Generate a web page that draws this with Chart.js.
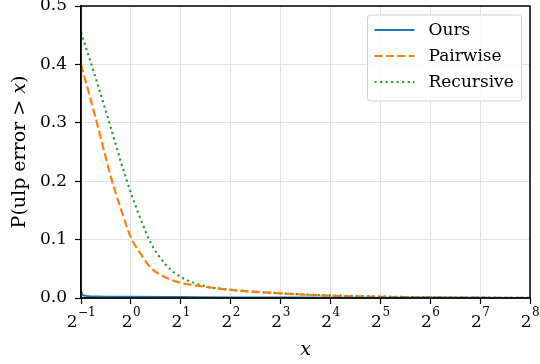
<!DOCTYPE html>
<html>
<head>
<meta charset="utf-8">
<script src="https://cdn.jsdelivr.net/npm/chart.js@4.4.1/dist/chart.umd.min.js"></script>
<style>
  html, body { margin: 0; padding: 0; background: #fff; }
  canvas { display: block; }
</style>
</head>
<body>
<canvas id="ulpChart" width="540" height="364"></canvas>
<script>
// datos
const xTickValues = [0.5, 1, 2, 4, 8, 16, 32, 64, 128, 256];
const xTickExponents = ["−1", "0", "1", "2", "3", "4", "5", "6", "7", "8"];
const yTickValues = [0, 0.1, 0.2, 0.3, 0.4, 0.5];

const xOurs = [0.5, 0.51, 0.525, 0.555, 0.616, 1, 2, 4, 16, 64, 256];
const ours = [0.012, 0.006, 0.004, 0.003, 0.0025, 0.002, 0.0015, 0.001, 0.0006, 0.0003, 0.0001];

const xBaselines = [0.5, 0.616, 0.758, 0.871, 1, 1.149, 1.32, 1.625, 2, 2.83, 4, 8, 16, 32, 64, 128, 256];
const pairwise = [0.40, 0.306, 0.207, 0.152, 0.104, 0.075, 0.052, 0.035, 0.026, 0.019, 0.014, 0.008, 0.004, 0.002, 0.001, 0.0005, 0.0002];
const recursive = [0.455, 0.375, 0.291, 0.233, 0.18, 0.134, 0.094, 0.057, 0.036, 0.020, 0.014, 0.008, 0.0045, 0.0025, 0.0012, 0.0006, 0.0003];

const serif = "'DejaVu Serif', 'Liberation Serif', serif";

const toPoints = (xs, ys) => xs.map((x, i) => ({ x: x, y: ys[i] }));

// marco negro completo
const framePlugin = {
  id: "frame",
  afterDatasetsDraw(chart) {
    const { ctx, chartArea } = chart;
    ctx.save();
    ctx.strokeStyle = "#000";
    ctx.lineWidth = 1.5;
    ctx.strokeRect(chartArea.left, chartArea.top, chartArea.right - chartArea.left, chartArea.bottom - chartArea.top);
    ctx.restore();
  },
};

// etiquetas 2^n con exponente y titulos con x en cursiva
const labelsPlugin = {
  id: "mathLabels",
  afterDraw(chart) {
    const { ctx, chartArea } = chart;
    const xs = chart.scales.x;
    ctx.save();
    ctx.fillStyle = "#000";
    ctx.textBaseline = "alphabetic";
    xTickValues.forEach((v, i) => {
      const px = xs.getPixelForValue(v);
      ctx.font = "17px " + serif;
      const wb = ctx.measureText("2").width;
      ctx.font = "12px " + serif;
      const we = ctx.measureText(xTickExponents[i]).width;
      const x0 = px - (wb + we) / 2;
      ctx.font = "17px " + serif;
      ctx.textAlign = "left";
      ctx.fillText("2", x0, 327);
      ctx.font = "12px " + serif;
      ctx.fillText(xTickExponents[i], x0 + wb + 0.5, 316);
    });

    // titulo eje x
    ctx.font = "italic 19px " + serif;
    ctx.textAlign = "center";
    ctx.fillText("x", (chartArea.left + chartArea.right) / 2, 355);

    // titulo eje y
    const parts = [
      { t: "P(ulp error > ", f: "19px " + serif },
      { t: "x", f: "italic 19px " + serif },
      { t: ")", f: "19px " + serif },
    ];
    let total = 0;
    parts.forEach((p) => { ctx.font = p.f; p.w = ctx.measureText(p.t).width; total += p.w; });
    ctx.translate(25, (chartArea.top + chartArea.bottom) / 2);
    ctx.rotate(-Math.PI / 2);
    ctx.textAlign = "left";
    let cx = -total / 2;
    parts.forEach((p) => { ctx.font = p.f; ctx.fillText(p.t, cx, 0); cx += p.w; });
    ctx.restore();
  },
};

// leyenda dentro del area
const legendPlugin = {
  id: "legendInside",
  afterDraw(chart) {
    const { ctx, chartArea } = chart;
    const w = 154, h = 86;
    const x0 = chartArea.right - 8.5 - w;
    const y0 = chartArea.top + 9;
    ctx.save();
    ctx.fillStyle = "rgba(255,255,255,0.85)";
    ctx.strokeStyle = "#d0d0d0";
    ctx.lineWidth = 1;
    ctx.beginPath();
    ctx.roundRect(x0, y0, w, h, 3);
    ctx.fill();
    ctx.stroke();
    chart.data.datasets.forEach((ds, i) => {
      const y = y0 + 15 + i * 26;
      ctx.strokeStyle = ds.borderColor;
      ctx.lineWidth = ds.borderWidth;
      ctx.setLineDash(ds.borderDash || []);
      ctx.beginPath();
      ctx.moveTo(x0 + 7, y);
      ctx.lineTo(x0 + 47, y);
      ctx.stroke();
      ctx.setLineDash([]);
      ctx.fillStyle = "#000";
      ctx.font = "17px " + serif;
      ctx.textBaseline = "middle";
      ctx.textAlign = "left";
      ctx.fillText(ds.label, x0 + 61, y + 1);
    });
    ctx.restore();
  },
};

const gridOpts = {
  color: "#e2e2e2",
  lineWidth: 1,
  drawTicks: true,
  tickLength: 6,
  tickColor: "#000",
  tickWidth: 1.2,
};

const ctx = document.getElementById("ulpChart").getContext("2d");
const chart = new Chart(ctx, {
  type: "line",
  data: {
    datasets: [
      {
        label: "Ours",
        data: toPoints(xOurs, ours),
        borderColor: "#1f77b4",
        borderWidth: 2,
        pointRadius: 0,
        fill: false,
        cubicInterpolationMode: "monotone",
      },
      {
        label: "Pairwise",
        data: toPoints(xBaselines, pairwise),
        borderColor: "#ff7f0e",
        borderWidth: 2.2,
        borderDash: [8, 3.5],
        pointRadius: 0,
        fill: false,
        cubicInterpolationMode: "monotone",
      },
      {
        label: "Recursive",
        data: toPoints(xBaselines, recursive),
        borderColor: "#2ca02c",
        borderWidth: 2.2,
        borderDash: [2.2, 3.3],
        pointRadius: 0,
        fill: false,
        cubicInterpolationMode: "monotone",
      },
    ],
  },
  options: {
    responsive: false,
    animation: false,
    layout: { padding: { top: 6, right: 10, left: 0, bottom: 0 } },
    plugins: {
      legend: { display: false },
      tooltip: { enabled: false },
    },
    scales: {
      x: {
        type: "logarithmic",
        min: 0.5,
        max: 256,
        afterBuildTicks: (scale) => {
          scale.ticks = xTickValues.map((v) => ({ value: v }));
        },
        afterFit: (scale) => {
          scale.height = 66;
          scale.paddingLeft = 0;
          scale.paddingRight = 0;
        },
        ticks: {
          autoSkip: false,
          maxRotation: 0,
          callback: () => "",
        },
        grid: gridOpts,
        border: { color: "#000", width: 1.5 },
      },
      y: {
        type: "linear",
        min: 0,
        max: 0.5,
        afterBuildTicks: (scale) => {
          scale.ticks = yTickValues.map((v) => ({ value: v }));
        },
        afterFit: (scale) => {
          scale.width = 81;
          scale.paddingTop = 0;
          scale.paddingBottom = 0;
        },
        ticks: {
          color: "#000",
          padding: 8,
          font: { family: serif, size: 17 },
          callback: (value) => value.toFixed(1),
        },
        grid: gridOpts,
        border: { color: "#000", width: 1.5 },
      },
    },
  },
  plugins: [framePlugin, labelsPlugin, legendPlugin],
});
</script>
</body>
</html>
